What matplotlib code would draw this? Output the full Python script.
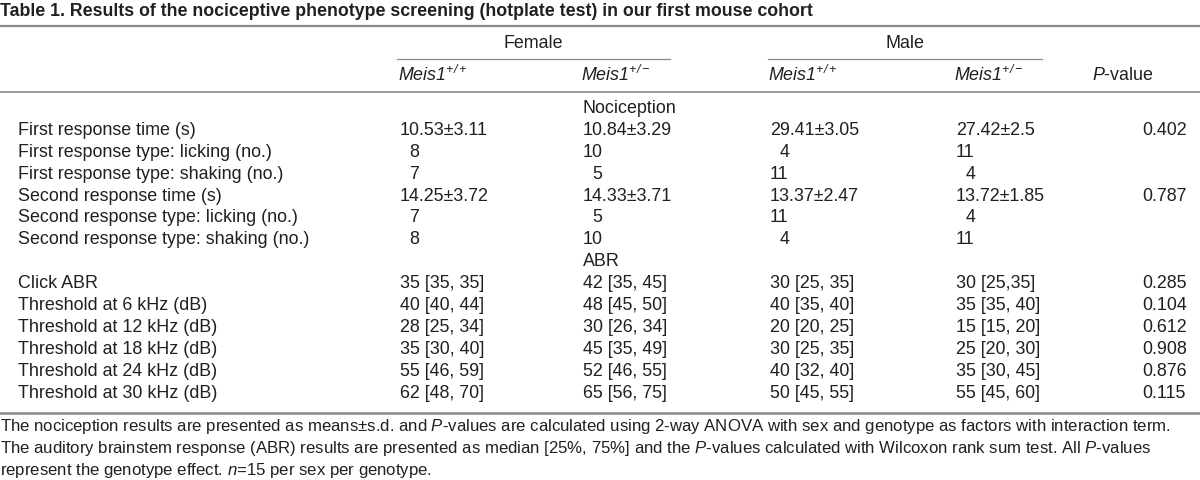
import matplotlib
matplotlib.use('Agg')
import matplotlib.pyplot as plt

plt.rcParams['mathtext.fontset'] = 'custom'
plt.rcParams['mathtext.rm'] = 'Liberation Sans'
plt.rcParams['mathtext.it'] = 'Liberation Sans:italic'
plt.rcParams['mathtext.sf'] = 'Liberation Sans:italic'

TXT = '#231f20'
LINE = '#8a8a8a'
BODY = ['Liberation Sans', 'DejaVu Sans']

title = 'Table 1. Results of the nociceptive phenotype screening (hotplate test) in our first mouse cohort'
groups = ['Female', 'Male']
genotypes = [r'$\mathsf{Meis1}^{\mathsf{+/+}}$', r'$\mathsf{Meis1}^{\mathsf{+/-}}$',
             r'$\mathsf{Meis1}^{\mathsf{+/+}}$', r'$\mathsf{Meis1}^{\mathsf{+/-}}$']
p_header = r'$\mathsf{P}$-value'

# Nociception block
noc_labels = ['First response time (s)',
              'First response type: licking (no.)',
              'First response type: shaking (no.)',
              'Second response time (s)',
              'Second response type: licking (no.)',
              'Second response type: shaking (no.)']
noc_female_wt = ['10.53±3.11', 8, 7, '14.25±3.72', 7, 8]
noc_female_het = ['10.84±3.29', 10, 5, '14.33±3.71', 5, 10]
noc_male_wt = ['29.41±3.05', 4, 11, '13.37±2.47', 11, 4]
noc_male_het = ['27.42±2.5', 11, 4, '13.72±1.85', 4, 11]
noc_p = ['0.402', '', '', '0.787', '', '']

# ABR block
abr_labels = ['Click ABR',
              'Threshold at 6 kHz (dB)',
              'Threshold at 12 kHz (dB)',
              'Threshold at 18 kHz (dB)',
              'Threshold at 24 kHz (dB)',
              'Threshold at 30 kHz (dB)']
abr_female_wt = ['35 [35, 35]', '40 [40, 44]', '28 [25, 34]', '35 [30, 40]', '55 [46, 59]', '62 [48, 70]']
abr_female_het = ['42 [35, 45]', '48 [45, 50]', '30 [26, 34]', '45 [35, 49]', '52 [46, 55]', '65 [56, 75]']
abr_male_wt = ['30 [25, 35]', '40 [35, 40]', '20 [20, 25]', '30 [25, 35]', '40 [32, 40]', '50 [45, 55]']
abr_male_het = ['30 [25,35]', '35 [35, 40]', '15 [15, 20]', '25 [20, 30]', '35 [30, 45]', '55 [45, 60]']
abr_p = ['0.285', '0.104', '0.612', '0.908', '0.876', '0.115']

footnote = ['The nociception results are presented as means±s.d. and $P$-values are calculated using '
            '2-way ANOVA with sex and genotype as factors with interaction term.',
            'The auditory brainstem response (ABR) results are presented as median [25%, 75%] and the '
            '$P$-values calculated with Wilcoxon rank sum test. All $P$-values',
            'represent the genotype effect. $n$=15 per sex per genotype.']


def cell(v):
    # single counts are padded with a figure space like in the original
    if isinstance(v, int):
        return str(v).rjust(2, '\u2007')
    return v


fig = plt.figure(figsize=(12, 4.8), dpi=100)
ax = fig.add_axes([0, 0, 1, 1])
ax.set_xlim(0, 1200)
ax.set_ylim(480, 0)
ax.axis('off')

fs = 12.9
col_x = [400, 583, 770, 956, 1142]
label_x = 18

ax.text(0, 12, title, fontsize=12.8, fontweight='bold', family=BODY, color=TXT, va='center')

ax.plot([0, 1200], [26, 26], color=LINE, lw=1.6)
ax.plot([397, 670], [59, 59], color=LINE, lw=0.9)
ax.plot([768, 1042], [59, 59], color=LINE, lw=0.9)
ax.plot([0, 1200], [92, 92], color=LINE, lw=1.2)
ax.plot([0, 1200], [413, 413], color=LINE, lw=1.8)

ax.text(533, 43, groups[0], fontsize=fs, family=BODY, color=TXT, ha='center', va='center')
ax.text(905, 43, groups[1], fontsize=fs, family=BODY, color=TXT, ha='center', va='center')
for x, g in zip(col_x, genotypes):
    ax.text(x - 2, 75, g, fontsize=fs, family=BODY, color=TXT, va='center')
ax.text(1092, 75, p_header, fontsize=fs, family=BODY, color=TXT, va='center')

row_h = 21.9
y0 = 108.5
blocks = [('Nociception', noc_labels, [noc_female_wt, noc_female_het, noc_male_wt, noc_male_het, noc_p]),
          ('ABR', abr_labels, [abr_female_wt, abr_female_het, abr_male_wt, abr_male_het, abr_p])]
k = 0
for head, labels, cols in blocks:
    ax.text(col_x[1], y0 + k * row_h, head, fontsize=fs, family=BODY, color=TXT, va='center')
    k += 1
    for i, lab in enumerate(labels):
        y = y0 + k * row_h
        ax.text(label_x, y, lab, fontsize=fs, family=BODY, color=TXT, va='center')
        for x, col in zip(col_x, cols):
            ax.text(x, y, cell(col[i]), fontsize=fs, family=BODY, color=TXT, va='center')
        k += 1

for j, line in enumerate(footnote):
    ax.text(0, 426 + j * 22, line, fontsize=12.1, family=BODY, color=TXT, va='center')

fig.savefig('out.png', dpi=100)
